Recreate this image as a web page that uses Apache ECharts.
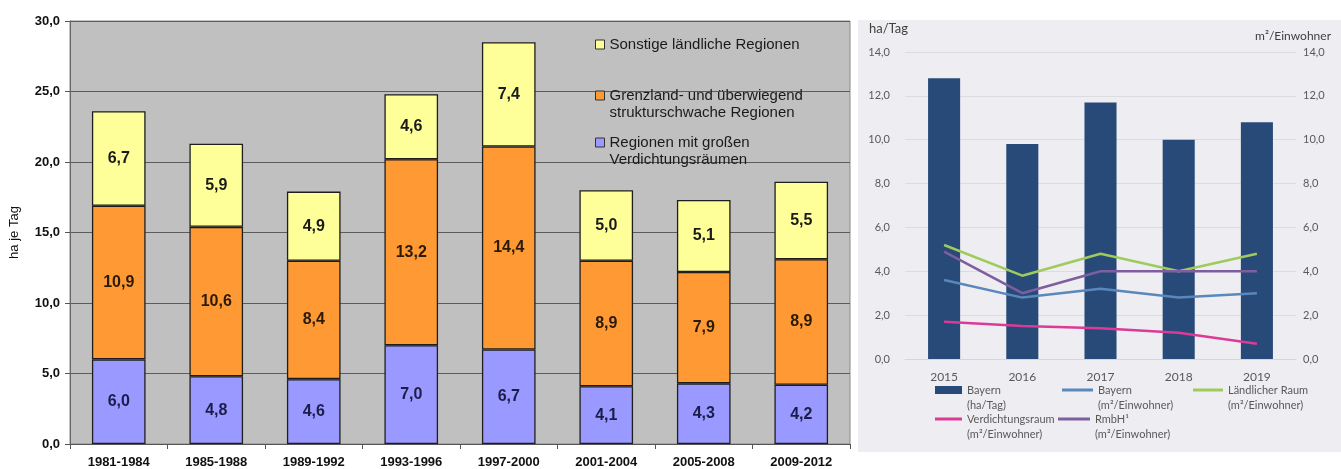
<!DOCTYPE html>
<html lang="de">
<head>
<meta charset="UTF-8">
<title>Flächenverbrauch</title>
<script src="https://cdn.jsdelivr.net/npm/echarts@6/dist/echarts.min.js"></script>
<style>html,body{margin:0;padding:0;background:#fff;}</style>
</head>
<body>
<div id="wrap" style="width:1341px;height:469px;"></div>
<script>
// linke Grafik: ha je Tag nach Raumkategorie
var periods = ['1981-1984', '1985-1988', '1989-1992', '1993-1996', '1997-2000', '2001-2004', '2005-2008', '2009-2012'];
var verdichtung = [6.0, 4.8, 4.6, 7.0, 6.7, 4.1, 4.3, 4.2];
var grenzland = [10.9, 10.6, 8.4, 13.2, 14.4, 8.9, 7.9, 8.9];
var laendlich = [6.7, 5.9, 4.9, 4.6, 7.4, 5.0, 5.1, 5.5];

// rechte Grafik: Bayern 2015-2019
var years = ['2015', '2016', '2017', '2018', '2019'];
var bayernHa = [12.8, 9.8, 11.7, 10.0, 10.8];
var bayernM2 = [3.6, 2.8, 3.2, 2.8, 3.0];
var laendlicherRaum = [5.2, 3.8, 4.8, 4.0, 4.8];
var verdichtungsraum = [1.7, 1.5, 1.4, 1.2, 0.7];
var rmbh = [4.9, 3.0, 4.0, 4.0, 4.0];

var nameL1 = 'Sonstige ländliche Regionen';
var nameL2 = 'Grenzland- und überwiegend\nstrukturschwache Regionen';
var nameL3 = 'Regionen mit großen\nVerdichtungsräumen';
var nameR1 = 'Bayern\n(ha/Tag)';
var nameR2 = 'Bayern\n(m²/Einwohner)';
var nameR3 = 'Ländlicher Raum\n(m²/Einwohner)';
var nameR4 = 'Verdichtungsraum\n(m²/Einwohner)';
var nameR5 = 'RmbH¹\n(m²/Einwohner)';

var ARIAL = '"Liberation Sans", Arial, sans-serif';
var CALIBRI = 'Lato, "Open Sans", sans-serif';

function komma(v) {
    return Number(v).toFixed(1).replace('.', ',');
}

// leere erste Zeile, damit das Symbol neben der ersten Textzeile steht
function ersteZeile(n) {
    return n.indexOf('\n') >= 0 ? ' \n' + n : n;
}

function leftLegend(name, top) {
    return {
        data: [name], left: 595, top: top, padding: 0, icon: 'rect',
        itemWidth: 9, itemHeight: 9, itemGap: 0, selectedMode: false,
        formatter: ersteZeile,
        itemStyle: {borderColor: '#333', borderWidth: 1},
        textStyle: {fontFamily: ARIAL, fontSize: 15, color: '#1a1a1a', lineHeight: 17}
    };
}

function rightLegend(name, left, top, w, h) {
    return {
        data: [name], left: left, top: top, padding: 0, icon: 'rect',
        itemWidth: w, itemHeight: h, itemGap: 0, selectedMode: false,
        formatter: ersteZeile,
        textStyle: {fontFamily: CALIBRI, fontSize: 11, color: '#595959', lineHeight: 15}
    };
}

function stackBar(name, data, color, labelColor) {
    return {
        name: name, type: 'bar', stack: 'gesamt', data: data,
        xAxisIndex: 0, yAxisIndex: 0, barCategoryGap: '45%',
        itemStyle: {color: color, borderColor: '#1e1e1e', borderWidth: 1.3},
        label: {show: true, position: 'inside', formatter: function (p) { return komma(p.value); },
            fontFamily: ARIAL, fontWeight: 'bold', fontSize: 16, color: labelColor}
    };
}

function regLine(name, data, color) {
    return {
        name: name, type: 'line', data: data, xAxisIndex: 1, yAxisIndex: 2,
        symbol: 'none', z: 5, color: color,
        lineStyle: {color: color, width: 2.5}
    };
}

var myChart = echarts.init(document.getElementById('wrap'));

var option = {
    animation: false,
    backgroundColor: '#ffffff',
    graphic: [
        {type: 'rect', z: -10, shape: {x: 858, y: 20, width: 483, height: 432}, style: {fill: '#eeedf2'}},
        {type: 'text', left: 869, top: 22, style: {text: 'ha/Tag', fontFamily: CALIBRI, fontSize: 13, fill: '#404040'}},
        {type: 'text', right: 10, top: 30, style: {text: 'm²/Einwohner', fontFamily: CALIBRI, fontSize: 12, fill: '#404040'}}
    ],
    legend: [
        leftLegend(nameL1, 36),
        leftLegend(nameL2, 70),
        leftLegend(nameL3, 117),
        rightLegend(nameR1, 935, 367.5, 27, 8),
        rightLegend(nameR2, 1062, 367.5, 31, 3),
        rightLegend(nameR3, 1193, 367.5, 30, 3),
        rightLegend(nameR4, 935, 396.5, 27, 3),
        rightLegend(nameR5, 1058, 396.5, 32, 3)
    ],
    grid: [
        {left: 67, top: 21, width: 783, height: 425, show: true, backgroundColor: '#c0c0c0',
            borderColor: '#8a8a8a', borderWidth: 1},
        {left: 905, top: 52, width: 391, height: 307}
    ],
    xAxis: [
        {
            type: 'category', gridIndex: 0, data: periods,
            axisLine: {lineStyle: {color: '#555', width: 1}},
            axisTick: {show: true, length: 5, lineStyle: {color: '#555'}},
            axisLabel: {fontFamily: ARIAL, fontWeight: 'bold', fontSize: 13, color: '#111', margin: 12}
        },
        {
            type: 'category', gridIndex: 1, data: years,
            axisLine: {lineStyle: {color: '#d6d6da'}},
            axisTick: {show: false},
            axisLabel: {fontFamily: CALIBRI, fontSize: 12, color: '#595959', margin: 12}
        }
    ],
    yAxis: [
        {
            type: 'value', gridIndex: 0, min: 0, max: 30, interval: 5,
            name: 'ha je Tag', nameLocation: 'middle', nameGap: 49, nameRotate: 90,
            nameTextStyle: {fontFamily: ARIAL, fontSize: 13, color: '#111'},
            axisLine: {show: true, lineStyle: {color: '#666'}},
            axisTick: {show: true, length: 5, lineStyle: {color: '#555'}},
            axisLabel: {formatter: komma, fontFamily: ARIAL, fontWeight: 'bold', fontSize: 13, color: '#111', margin: 10},
            splitLine: {lineStyle: {color: '#5c5c5c', width: 1}}
        },
        {
            type: 'value', gridIndex: 1, min: 0, max: 14, interval: 2,
            axisLine: {show: false}, axisTick: {show: false},
            axisLabel: {formatter: komma, fontFamily: CALIBRI, fontSize: 11, color: '#595959', margin: 15},
            splitLine: {lineStyle: {color: '#dcdbe0', width: 1}}
        },
        {
            type: 'value', gridIndex: 1, min: 0, max: 14, interval: 2, position: 'right',
            axisLine: {show: false}, axisTick: {show: false},
            axisLabel: {formatter: komma, fontFamily: CALIBRI, fontSize: 11, color: '#595959', margin: 7},
            splitLine: {show: false}
        }
    ],
    series: [
        stackBar(nameL3, verdichtung, '#9999ff', '#1c1c4a'),
        stackBar(nameL2, grenzland, '#ff9933', '#2a1a08'),
        stackBar(nameL1, laendlich, '#ffff99', '#1a1a1a'),
        {
            name: nameR1, type: 'bar', data: bayernHa, xAxisIndex: 1, yAxisIndex: 1,
            barCategoryGap: '59%', color: '#284a78', itemStyle: {color: '#284a78'}
        },
        regLine(nameR2, bayernM2, '#5a88bd'),
        regLine(nameR3, laendlicherRaum, '#9fcb5c'),
        regLine(nameR4, verdichtungsraum, '#dc3a97'),
        regLine(nameR5, rmbh, '#7e5e9f')
    ]
};

myChart.setOption(option);
</script>
</body>
</html>
